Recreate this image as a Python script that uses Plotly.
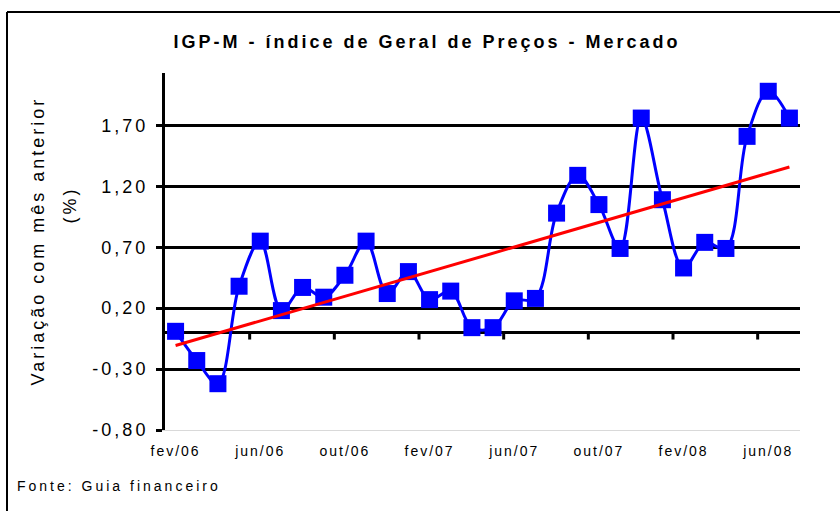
import numpy as np
import plotly.graph_objects as go

# ---- data ----
months = ["fev/06", "mar/06", "abr/06", "mai/06", "jun/06", "jul/06", "ago/06", "set/06",
          "out/06", "nov/06", "dez/06", "jan/07", "fev/07", "mar/07", "abr/07", "mai/07",
          "jun/07", "jul/07", "ago/07", "set/07", "out/07", "nov/07", "dez/07", "jan/08",
          "fev/08", "mar/08", "abr/08", "mai/08", "jun/08", "jul/08"]
igpm = [0.01, -0.23, -0.42, 0.38, 0.75, 0.18, 0.37, 0.29, 0.47, 0.75, 0.32, 0.50,
        0.27, 0.34, 0.04, 0.04, 0.26, 0.28, 0.98, 1.29, 1.05, 0.69, 1.76, 1.09,
        0.53, 0.74, 0.69, 1.61, 1.98, 1.76]
y_tickvals = [-0.8, -0.3, 0.2, 0.7, 1.2, 1.7]
y_ticktext = ["-0,80", "-0,30", "0,20", "0,70", "1,20", "1,70"]
x_tick_every = 4

x = np.arange(len(months))
slope, intercept = np.polyfit(x, np.array(igpm), 1)
trend = slope * x + intercept

FONT = "Liberation Sans, Arial, sans-serif"

# plot area in pixels
L, R, T, B = 165, 800, 73, 430
W, H = 840, 511


def px(xp):
    return (xp - L) / (R - L)


def py(yp):
    return (B - yp) / (B - T)


fig = go.Figure()
fig.add_trace(go.Scatter(
    x=x, y=igpm, mode="lines+markers",
    line=dict(color="#0000ff", width=3, shape="spline", smoothing=1.0),
    marker=dict(symbol="square", size=17, color="#0000ff"),
    name="IGP-M", showlegend=False))
fig.add_trace(go.Scatter(
    x=[x[0], x[-1]], y=[trend[0], trend[-1]], mode="lines",
    line=dict(color="#ff0000", width=3), name="Tendência", showlegend=False))

# tick marks on the zero line at category boundaries
shapes = []
for k in range(x_tick_every - 1, len(months) - 1, x_tick_every):
    b = k + 0.5
    shapes.append(dict(type="line", xref="x", yref="y", ysizemode="pixel", yanchor=0,
                       x0=b, x1=b, y0=0, y1=-7, line=dict(color="black", width=3)))
# outer frame: only its top and left edges fall inside the picture
shapes.append(dict(type="line", xref="paper", yref="paper", layer="below",
                   x0=px(7), x1=px(845), y0=py(12), y1=py(12),
                   line=dict(color="black", width=2)))
shapes.append(dict(type="line", xref="paper", yref="paper", layer="below",
                   x0=px(7), x1=px(7), y0=py(12), y1=py(520),
                   line=dict(color="black", width=2)))

fig.update_layout(
    width=W, height=H,
    margin=dict(l=L, r=W - R, t=T, b=H - B),
    paper_bgcolor="white", plot_bgcolor="white",
    font=dict(family=FONT, color="black"),
    title=dict(text="<b>IGP-M - índice de Geral de Preços - Mercado</b>",
               font=dict(size=18, family=FONT, color="black"),
               xref="container", yref="container", x=427 / W, y=1 - 42 / H,
               xanchor="center", yanchor="middle"),
    xaxis=dict(range=[-0.5, len(months) - 0.5],
               tickvals=list(x[::x_tick_every]),
               ticktext=months[::x_tick_every],
               showgrid=False, zeroline=False, ticks="",
               showline=True, linecolor="#d9d9d9", linewidth=1,
               tickfont=dict(size=14, family=FONT, color="black"),
               ticklabelstandoff=8),
    yaxis=dict(range=[-0.8, 2.13], tickvals=y_tickvals, ticktext=y_ticktext,
               showgrid=True, gridcolor="black", gridwidth=3,
               zeroline=True, zerolinecolor="black", zerolinewidth=3,
               showline=True, linecolor="black", linewidth=3,
               ticks="outside", ticklen=6, tickwidth=3, tickcolor="black",
               tickfont=dict(size=18, family=FONT, color="black"),
               ticklabelstandoff=4),
    shapes=shapes,
    annotations=[
        dict(text="Variação com mês anterior", xref="paper", yref="paper",
             x=px(38), y=py(241), xanchor="center", yanchor="middle", textangle=-90,
             showarrow=False, font=dict(size=18, family=FONT, color="black")),
        dict(text="(%)", xref="paper", yref="paper",
             x=px(70), y=py(205), xanchor="center", yanchor="middle", textangle=-90,
             showarrow=False, font=dict(size=18, family=FONT, color="black")),
        dict(text="Fonte: Guia financeiro", xref="paper", yref="paper",
             x=px(119), y=py(486), xanchor="center", yanchor="middle", showarrow=False,
             font=dict(size=14, family=FONT, color="black")),
    ],
)

# widen the letter spacing as in the original rendering; drop the default page margin
post = """
document.documentElement.style.overflow = 'hidden';
document.body.style.margin = '0';
document.body.style.overflow = 'hidden';
var gd = document.getElementById('{plot_id}');
function sp(sel, v) { gd.querySelectorAll(sel).forEach(function (t) { t.style.letterSpacing = v; }); }
sp('.gtitle', '3px');
sp('.ytick text', '3px');
sp('.xtick text', '2px');
sp('.annotation-text', '3px');
"""

fig.write_html("out.html", post_script=post, config={"displayModeBar": False})
